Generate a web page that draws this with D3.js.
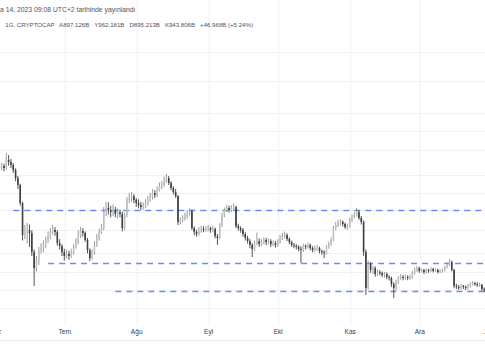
<!DOCTYPE html>
<html><head><meta charset="utf-8">
<script src="https://cdn.jsdelivr.net/npm/d3@7"></script>
<style>
body{margin:0;background:#fff;}
svg{display:block;font-family:"Liberation Sans",Arial,sans-serif;}
</style>
</head><body><svg id="c" width="485" height="360"></svg>
<script>
// ---- data (values in billions USD, daily candles starting 2022-06-01) ----
const startDate = "2022-06-01";
const opens = [1239,1243,1235,1231,1239,1231,1262,1254,1243,1223,1192,1165,1095,971,983,991,979,905,843,867,913,921,933,952,967,983,991,983,940,929,
905,890,898,890,905,925,944,967,987,979,952,913,882,905,933,960,983,998,1060,1076,1068,1060,1068,1053,1060,1053,998,1049,1107,1115,
1122,1107,1095,1088,1080,1084,1095,1111,1119,1134,1126,1146,1161,1165,1184,1192,1173,1153,1138,1122,1022,1029,1037,1045,1057,1064,998,983,975,991,
995,991,995,998,991,995,967,960,1010,1049,1068,1076,1068,1076,1080,1006,998,991,975,960,948,933,917,940,948,936,944,952,944,948,
936,940,933,944,960,967,971,956,944,933,929,925,917,913,929,925,933,921,913,921,921,909,905,902,925,936,952,998,1010,1018,
1022,1014,1002,1006,1029,1041,1049,1060,1037,1022,905,766,859,836,843,820,828,824,816,820,809,805,781,766,789,805,809,805,809,805,
809,824,836,843,832,836,828,836,832,840,832,836,828,832,836,847,859,867,836,774,770,766,774,770,766,774,781,785,781,778,778,762];
const highs = [1258,1252,1246,1250,1248,1289,1281,1266,1250,1230,1200,1170,1100,1010,1018,1012,990,915,890,925,940,950,965,985,998,1010,1002,990,955,935,
918,915,910,918,935,958,990,1002,998,985,960,920,915,948,975,995,1015,1080,1100,1098,1085,1090,1080,1075,1070,1062,1058,1118,1135,1138,
1130,1115,1110,1100,1098,1110,1122,1135,1150,1145,1160,1175,1180,1198,1208,1200,1180,1160,1150,1126,1040,1048,1058,1068,1075,1070,1005,992,1002,1008,
1005,1006,1010,1004,1008,1000,975,1018,1058,1078,1088,1085,1086,1094,1085,1015,1005,998,982,968,955,940,950,980,958,955,962,960,958,955,
950,948,955,972,980,985,978,962,950,940,936,932,928,938,935,942,938,928,930,932,926,915,912,932,945,962,1008,1022,1030,1032,
1028,1020,1015,1038,1050,1060,1076,1068,1045,1028,915,872,866,852,850,838,835,830,828,826,815,810,788,798,812,820,816,818,815,818,
832,845,852,848,842,840,842,840,846,844,842,840,838,842,852,866,878,872,840,782,778,782,778,776,782,788,792,790,788,786,782,768];
const lows = [1227,1224,1216,1222,1218,1225,1240,1231,1212,1180,1150,1085,950,955,940,925,890,774,830,855,900,905,920,940,955,972,968,930,915,890,
872,880,875,882,895,918,935,960,965,945,900,870,875,895,925,950,975,990,1045,1050,1040,1045,1040,1035,1040,985,990,1040,1095,1100,
1095,1080,1075,1068,1070,1075,1085,1100,1110,1115,1118,1140,1150,1158,1175,1165,1145,1128,1115,1010,1012,1020,1028,1035,1048,990,970,965,968,980,
982,984,985,980,982,958,933,955,1002,1040,1060,1058,1060,1066,998,988,980,965,950,938,920,886,910,932,925,928,935,932,935,925,
928,922,925,938,952,958,948,935,925,920,915,908,863,905,915,918,912,905,906,910,900,895,882,895,918,930,948,990,1002,1008,
1004,995,992,1000,1022,1035,1042,1030,1012,890,739,760,825,820,810,812,815,808,806,800,795,770,727,758,782,798,796,798,796,798,
802,818,828,825,826,820,822,825,828,826,828,822,824,826,830,842,852,830,765,762,758,760,762,758,760,768,775,774,770,770,755,750];
const closes = [1243,1235,1231,1239,1231,1262,1254,1243,1223,1192,1165,1095,971,983,991,979,905,843,867,913,921,933,952,967,983,991,983,940,929,905,
890,898,890,905,925,944,967,987,979,952,913,882,905,933,960,983,998,1060,1076,1068,1060,1068,1053,1060,1053,998,1049,1107,1115,1122,
1107,1095,1088,1080,1084,1095,1111,1119,1134,1126,1146,1161,1165,1184,1192,1173,1153,1138,1122,1022,1029,1037,1045,1057,1064,998,983,975,991,995,
991,995,998,991,995,967,960,1010,1049,1068,1076,1068,1076,1080,1006,998,991,975,960,948,933,917,940,948,936,944,952,944,948,936,
940,933,944,960,967,971,956,944,933,929,925,917,913,929,925,933,921,913,921,921,909,905,902,925,936,952,998,1010,1018,1022,
1014,1002,1006,1029,1041,1049,1060,1037,1022,905,766,859,836,843,820,828,824,816,820,809,805,781,766,789,805,809,805,809,805,809,
824,836,843,832,836,828,836,832,840,832,836,828,832,836,847,859,867,836,774,770,766,774,770,766,774,781,785,781,778,778,762,758];

const monthTicks = ["2022-06-01","2022-07-01","2022-08-01","2022-09-01","2022-10-01","2022-11-01","2022-12-01","2023-01-01"];
const monthLabels = ["Haz","Tem","Ağu","Eyl","Eki","Kas","Ara","2023"];
const gridValues = [1681,1568,1444,1374,1301,1204,1134,1068,991,902,828,758,688];
const levelValues = [1068,863,754];
const levelStarts = ["2022-06-09","2022-06-24","2022-07-23"];
const headerLine1 = "Oca 14, 2023 09:08 UTC+2 tarihinde yayınlandı";
const headerLine2 = ["1G, CRYPTOCAP","A897.126B","Y962.181B","D895.213B","K943.806B","+46.968B (+5.24%)"];

// ---- drawing ----
const W = 485, H = 360;
const svg = d3.select("#c");
const parse = d3.utcParse("%Y-%m-%d");
const start = parse(startDate);
const candles = closes.map((c,i)=>({date:d3.utcDay.offset(start,i),o:opens[i],h:highs[i],l:lows[i],c}));

const x = d3.scaleUtc().domain([parse("2022-06-01"), parse("2023-01-01")]).range([-5.3, 491.2]);
const y = d3.scaleLinear().domain([700,1300]).range([305,150.2]);

// horizontal grid
svg.append("g").selectAll("line").data(gridValues).join("line")
  .attr("x1",0).attr("x2",W)
  .attr("y1",d=>Math.round(y(d))+0.5).attr("y2",d=>Math.round(y(d))+0.5)
  .attr("stroke","#f0f1f4").attr("stroke-width",1);

// x axis with vertical grid
const axisY = 326;
const xAxis = d3.axisBottom(x)
  .tickValues(monthTicks.map(parse))
  .tickFormat((d,i)=>monthLabels[i])
  .tickSize(-axisY).tickPadding(3);
const gx = svg.append("g").attr("transform",`translate(0,${axisY})`).call(xAxis);
gx.select(".domain").remove();
gx.selectAll(".tick line").attr("stroke","#f0f1f4").attr("transform","translate(0.5,0)");
gx.selectAll(".tick text").attr("fill","#3b3e48").attr("font-size","6.6px")
  .attr("font-family","'Liberation Sans',Arial,sans-serif");

// bottom border
svg.append("line").attr("x1",0).attr("x2",W).attr("y1",340.5).attr("y2",340.5)
  .attr("stroke","#e9ebef");

// level lines
svg.append("g").selectAll("line").data(levelValues).join("line")
  .attr("x1",(d,i)=>x(parse(levelStarts[i]))).attr("x2",W)
  .attr("y1",d=>Math.round(y(d))+0.5).attr("y2",d=>Math.round(y(d))+0.5)
  .attr("stroke","#6b8cf2").attr("stroke-width",1.3).attr("stroke-dasharray","6,5");

// candles
const g = svg.append("g");
const bw = 1.6;
g.selectAll("line").data(candles).join("line")
  .attr("x1",d=>x(d.date)).attr("x2",d=>x(d.date))
  .attr("y1",d=>y(d.h)).attr("y2",d=>y(d.l))
  .attr("stroke",d=>d.c>=d.o?"#8e8e8e":"#3f3f3f").attr("stroke-width",0.9);
g.selectAll("rect").data(candles).join("rect")
  .attr("x",d=>x(d.date)-bw/2).attr("width",bw)
  .attr("y",d=>y(Math.max(d.o,d.c)))
  .attr("height",d=>Math.max(1,Math.abs(y(d.o)-y(d.c))))
  .attr("fill",d=>d.c>=d.o?"#c2c2c2":"#3f3f3f");

// header
const h1 = svg.append("text").attr("y",11.5).attr("font-size","6.8px").attr("fill","#50535e");
h1.text(headerLine1.slice(0,2));
const off = h1.node().getComputedTextLength();
h1.attr("x",-off).text(headerLine1);

// second header line: one text, pieces as tspans, fitted to the reference width
const h2 = svg.append("text").attr("x",5.3).attr("y",27).attr("fill","#50535e").attr("font-size","7px");
const gap = 5;
h2.selectAll("tspan").data(headerLine2).join("tspan")
  .attr("dx",(d,i)=>i?gap:0).text(d=>d);
const targetW = 248;
const len = h2.node().getComputedTextLength() + gap*(headerLine2.length-1);
const fs = Math.min(7, 7*(targetW - gap*(headerLine2.length-1))/(len - gap*(headerLine2.length-1)));
h2.attr("font-size",fs.toFixed(2)+"px");
</script>
</body></html>
